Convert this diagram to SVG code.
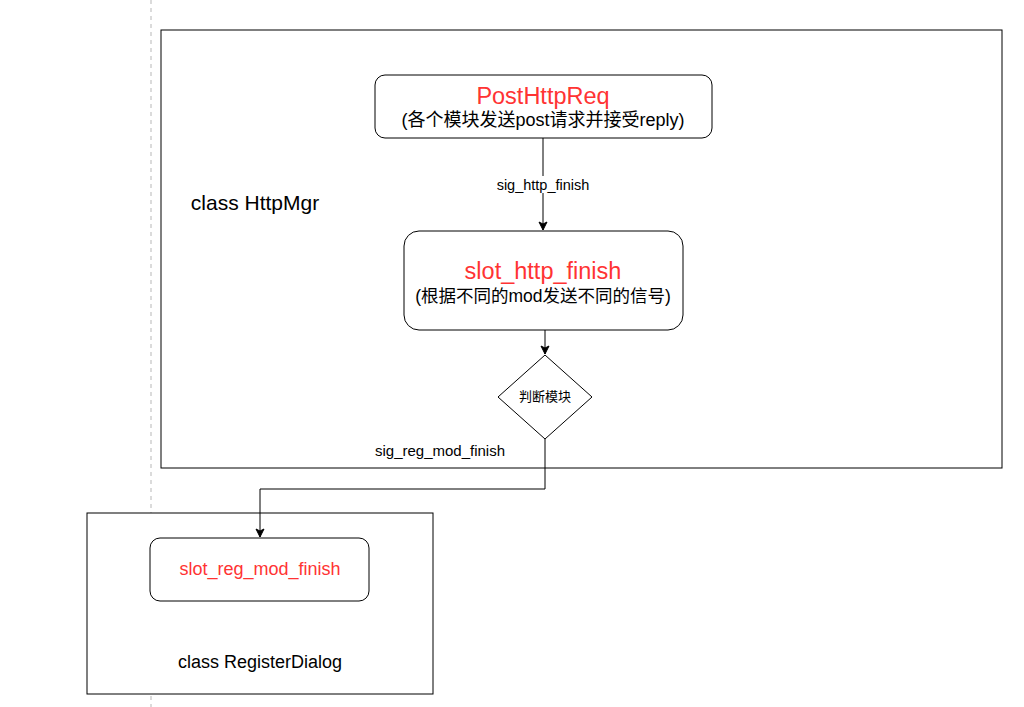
<svg xmlns="http://www.w3.org/2000/svg" width="1024" height="707" viewBox="0 0 1024 707">
<style>
.t{font-family:"Liberation Sans","Noto Sans CJK SC",sans-serif;text-anchor:middle}
.red{fill:#FF3333}
.box{fill:#fff;stroke:#000;stroke-width:1}
.edge{fill:none;stroke:#000;stroke-width:1}
</style>
<defs>
<marker id="arr" markerWidth="10" markerHeight="10" refX="9" refY="5" orient="auto" markerUnits="userSpaceOnUse">
<path d="M1,1 L9,5 L1,9 L3,5 Z" fill="#000" stroke="#000"/>
</marker>
</defs>
<rect width="1024" height="707" fill="#fff"/>
<line x1="151" y1="0" x2="151" y2="707" stroke="#d0d0d0" stroke-width="1.5" stroke-dasharray="4 4"/>
<g id="httpmgr">
<rect x="161" y="30" width="841" height="438" class="box"/>
<text x="255" y="210" class="t" font-size="21">class HttpMgr</text>
</g>
<g id="registerdialog">
<rect x="87" y="513" width="346" height="181" class="box"/>
<text x="260" y="668" class="t" font-size="18">class RegisterDialog</text>
</g>
<g id="posthttpreq">
<rect x="375" y="75" width="337" height="63" rx="10" class="box"/>
<text x="543" y="104" class="t red" font-size="23.5">PostHttpReq</text>
<text x="543" y="126" class="t" font-size="18">(各个模块发送post请求并接受reply)</text>
</g>
<g id="slothttpfinish">
<rect x="404" y="231" width="279" height="99" rx="15" class="box"/>
<text x="543" y="279" class="t red" font-size="23.5">slot_http_finish</text>
<text x="543" y="302" class="t" font-size="17.5">(根据不同的mod发送不同的信号)</text>
</g>
<g id="judge">
<polygon points="545,355 592,397 545,439 498,397" class="box"/>
<text x="545" y="401" class="t" font-size="13">判断模块</text>
</g>
<g id="slotregmodfinish">
<rect x="150" y="538" width="219" height="63" rx="10" class="box"/>
<text x="260" y="575" class="t red" font-size="18">slot_reg_mod_finish</text>
</g>
<g id="connectors">
<line x1="543" y1="138" x2="543" y2="230" class="edge" marker-end="url(#arr)"/>
<rect x="490" y="176" width="106" height="17" fill="#fff"/>
<text x="543" y="190" class="t" font-size="14.5">sig_http_finish</text>
<line x1="545" y1="330" x2="545" y2="354" class="edge" marker-end="url(#arr)"/>
<path d="M545,439 V489 H260 V537" class="edge" marker-end="url(#arr)"/>
<text x="440" y="456" class="t" font-size="15">sig_reg_mod_finish</text>
</g>
</svg>
